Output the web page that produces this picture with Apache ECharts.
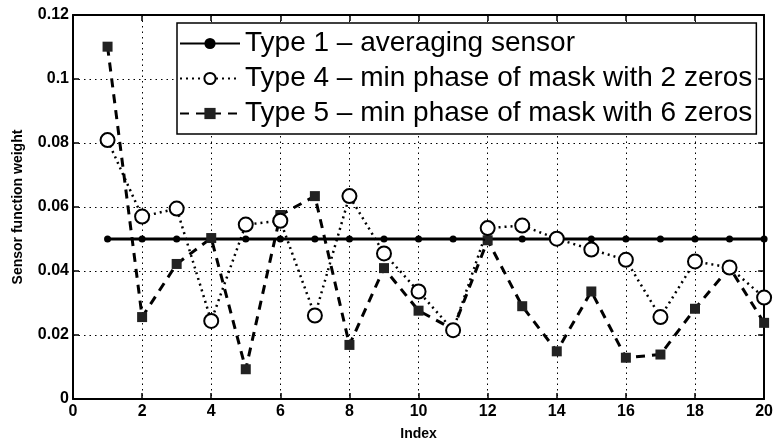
<!DOCTYPE html>
<html><head><meta charset="utf-8">
<script src="https://cdn.jsdelivr.net/npm/echarts@6/dist/echarts.min.js"></script>
<style>html,body{margin:0;padding:0;background:#fff}#c{width:776px;height:446px}</style>
</head><body><div id="c"></div>
<script>
const indexes = [1,2,3,4,5,6,7,8,9,10,11,12,13,14,15,16,17,18,19,20];
const type1 = [0.05,0.05,0.05,0.05,0.05,0.05,0.05,0.05,0.05,0.05,0.05,0.05,0.05,0.05,0.05,0.05,0.05,0.05,0.05,0.05];
const type4 = [0.0809,0.0570,0.0595,0.0244,0.0545,0.0557,0.0261,0.0634,0.0455,0.0336,0.0215,0.0534,0.0542,0.0501,0.0467,0.0435,0.0256,0.0430,0.0411,0.0317];
const type5 = [0.1101,0.0256,0.0422,0.0503,0.0093,0.0575,0.0634,0.0169,0.0409,0.0276,0.0218,0.0496,0.0290,0.0149,0.0336,0.0129,0.0139,0.0282,0.0411,0.0238];
const names = ['Type 1 \u2013 averaging sensor','Type 4 \u2013 min phase of mask with 2 zeros','Type 5 \u2013 min phase of mask with 6 zeros'];

const pair = arr => indexes.map((x,i)=>[x,arr[i]]);
const FONT = '"Liberation Sans", Arial, Helvetica, sans-serif';
const chart = echarts.init(document.getElementById('c'), null, {renderer:'canvas'});
const axisCommon = {
  axisLine:{show:true,onZero:false,lineStyle:{color:'#000',width:2}},
  axisTick:{show:true,inside:true,length:6,lineStyle:{color:'#000',width:1.5}},
};
chart.setOption({
  animation:false,
  backgroundColor:'#fff',
  grid:{left:73,right:9,top:15,bottom:39,containLabel:false},
  legend:{
    show:true, orient:'vertical', left:177, top:23,
    backgroundColor:'#fff', borderColor:'#000', borderWidth:1.5,
    padding:[4,4,4,2], itemGap:2, itemWidth:60, itemHeight:14,
    textStyle:{fontFamily:FONT,fontSize:28,color:'#000',lineHeight:33},
    data:names
  },
  xAxis:[
    Object.assign({type:'value',min:0,max:20,interval:2,position:'bottom',
      name:'Index',nameLocation:'middle',nameGap:28,
      nameTextStyle:{fontFamily:FONT,fontSize:14,fontWeight:'bold',color:'#000'},
      axisLabel:{fontFamily:FONT,fontSize:16,fontWeight:'bold',color:'#000',margin:5},
      splitLine:{show:true,lineStyle:{color:'#000',width:1,type:[1.5,4]}}},axisCommon),
    Object.assign({type:'value',min:0,max:20,interval:2,position:'top',
      axisLabel:{show:false},splitLine:{show:false}},axisCommon)
  ],
  yAxis:[
    Object.assign({type:'value',min:0,max:0.12,interval:0.02,position:'left',
      name:'Sensor function weight',nameLocation:'middle',nameGap:48,
      nameTextStyle:{fontFamily:FONT,fontSize:14,fontWeight:'bold',color:'#000'},
      axisLabel:{fontFamily:FONT,fontSize:16,fontWeight:'bold',color:'#000',margin:4},
      splitLine:{show:true,lineStyle:{color:'#000',width:1,type:[1.5,4]}}},axisCommon),
    Object.assign({type:'value',min:0,max:0.12,interval:0.02,position:'right',
      axisLabel:{show:false},splitLine:{show:false}},axisCommon)
  ],
  series:[
    {name:names[0],type:'line',data:pair(type1),symbol:'circle',symbolSize:7,
     lineStyle:{color:'#000',width:3,type:'solid'},itemStyle:{color:'#000'},z:3},
    {name:names[2],type:'line',data:pair(type5),symbol:'rect',symbolSize:10,
     lineStyle:{color:'#000',width:3,type:[9,7]},itemStyle:{color:'#222'},z:4},
    {name:names[1],type:'line',data:pair(type4),symbol:'emptyCircle',symbolSize:14,
     lineStyle:{color:'#000',width:2.5,type:[2,4]},itemStyle:{color:'#000',borderWidth:3},z:5}
  ]
});
</script></body></html>
